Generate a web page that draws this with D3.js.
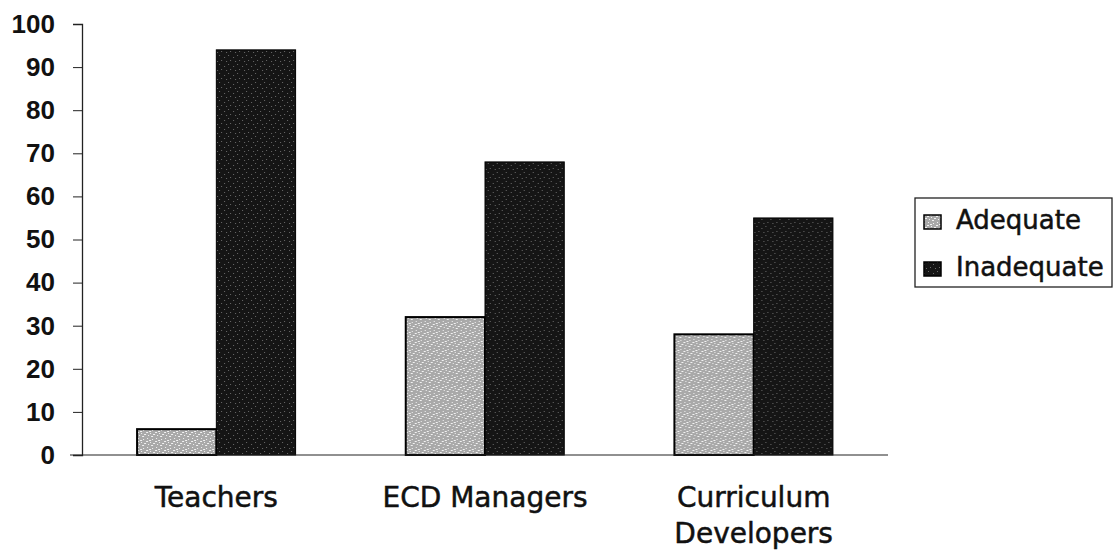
<!DOCTYPE html>
<html>
<head>
<meta charset="utf-8">
<script src="https://cdn.jsdelivr.net/npm/d3@7"></script>
<style>
body{margin:0;background:#fff;}
svg{display:block;font-family:"DejaVu Sans","Liberation Sans",Arial,sans-serif;}
.axisy text{font-family:"Liberation Sans",Arial,sans-serif;font-size:26px;font-weight:bold;fill:#111;}
.axisx text{font-size:28px;fill:#111;stroke:#111;stroke-width:0.5px;}
.legend text{font-size:26px;fill:#111;stroke:#111;stroke-width:0.5px;}
</style>
</head>
<body>
<svg id="chart" width="1115" height="552"></svg>
<script>
const categories = ["Teachers", "ECD Managers", "Curriculum Developers"];
const seriesNames = ["Adequate", "Inadequate"];
const adequate = [6, 32, 28];
const inadequate = [94, 68, 55];
const yTicks = [0, 10, 20, 30, 40, 50, 60, 70, 80, 90, 100];

const svg = d3.select("#chart");
const defs = svg.append("defs");

// stippled fills like the scanned print
function makePattern(id, bg, dot, dots) {
	const p = defs.append("pattern").attr("id", id)
		.attr("width", 9).attr("height", 9)
		.attr("patternUnits", "userSpaceOnUse");
	p.append("rect").attr("width", 9).attr("height", 9).attr("fill", bg);
	dots.forEach(d => p.append("rect").attr("x", d[0]).attr("y", d[1])
		.attr("width", d[2]).attr("height", 1).attr("fill", dot));
}
makePattern("pAdq", "#a9a9a9", "#f2f2f2", [[0,0,2],[4,1,1],[7,2,2],[2,3,1],[5,4,2],[1,6,1],[6,7,1],[3,8,2]]);
makePattern("pInadq", "#151515", "#6a6a6a", [[1,1,1],[6,3,1],[3,6,1],[8,7,1]]);
const fills = ["url(#pAdq)", "url(#pInadq)"];

const x0 = d3.scaleBand().domain(categories).range([82, 888]).paddingInner(0.41).paddingOuter(0.205);
const x1 = d3.scaleBand().domain(seriesNames).range([0, x0.bandwidth()]);
const y = d3.scaleLinear().domain([0, 100]).range([455, 24]);

const rows = categories.map((c, i) => ({cat: c, values: [adequate[i], inadequate[i]]}));

// y axis
const axisY = d3.axisLeft(y).tickValues(yTicks).tickSize(9).tickPadding(18);
svg.append("g").attr("class", "axisy")
	.attr("transform", "translate(82,0)")
	.call(axisY)
	.call(g => g.select(".domain").attr("stroke", "#222").attr("stroke-width", 1.3))
	.call(g => g.selectAll(".tick line").attr("stroke", "#222"));

// bars
svg.append("g").selectAll("g")
	.data(rows)
	.enter().append("g")
	.attr("transform", d => `translate(${x0(d.cat)},0)`)
	.selectAll("rect")
	.data(d => d.values.map((v, k) => ({name: seriesNames[k], v: v, k: k})))
	.enter().append("rect")
	.attr("x", d => x1(d.name))
	.attr("y", d => y(d.v))
	.attr("width", x1.bandwidth())
	.attr("height", d => y(0) - y(d.v))
	.attr("fill", d => fills[d.k])
	.attr("stroke", "#000")
	.attr("stroke-width", d => d.k === 0 ? 2 : 1);

// x axis baseline
svg.append("line")
	.attr("x1", 70).attr("x2", 888)
	.attr("y1", y(0)).attr("y2", y(0))
	.attr("stroke", "#222").attr("stroke-width", 1.2);

// category labels (wrapped)
const labelLines = {"Teachers": ["Teachers"], "ECD Managers": ["ECD Managers"], "Curriculum Developers": ["Curriculum", "Developers"]};
const xl = svg.append("g").attr("class", "axisx");
categories.forEach(c => {
	const t = xl.append("text")
		.attr("x", x0(c) + x0.bandwidth() / 2)
		.attr("y", 507)
		.attr("text-anchor", "middle");
	labelLines[c].forEach((l, i) => t.append("tspan")
		.attr("x", x0(c) + x0.bandwidth() / 2)
		.attr("dy", i === 0 ? 0 : 36)
		.text(l));
});

// legend
const lg = svg.append("g").attr("class", "legend");
lg.append("rect").attr("x", 915).attr("y", 198).attr("width", 197).attr("height", 89)
	.attr("fill", "none").attr("stroke", "#222").attr("stroke-width", 1.3);
seriesNames.forEach((s, i) => {
	const yy = 229 + i * 47;
	lg.append("rect").attr("x", 924).attr("y", yy - 14).attr("width", 17).attr("height", 14)
		.attr("fill", fills[i]).attr("stroke", "#000").attr("stroke-width", 1.5);
	lg.append("text").attr("x", 956).attr("y", yy).text(s);
});
</script>
</body>
</html>
